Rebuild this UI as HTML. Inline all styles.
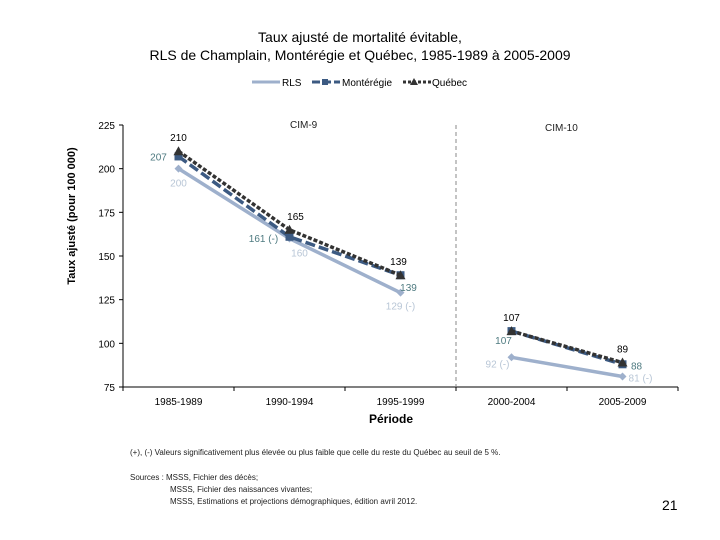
<!DOCTYPE html>
<html><head><meta charset="utf-8"><style>
body{margin:0;background:#fff;}
svg{display:block;font-family:"Liberation Sans",Arial,sans-serif;}
</style></head><body>
<svg id="c" width="720" height="540" viewBox="0 0 720 540">
<text x="360" y="42" text-anchor="middle" font-size="14">Taux ajusté de mortalité évitable,</text>
<text x="360" y="60" text-anchor="middle" font-size="14">RLS de Champlain, Montérégie et Québec, 1985-1989 à 2005-2009</text>
<g font-size="10">
<g><line x1="252" y1="82" x2="280" y2="82" stroke="#9eb0cc" stroke-width="3"/><text x="282" y="86">RLS</text></g>
<g><line x1="312" y1="82" x2="340" y2="82" stroke="#3c5a82" stroke-width="3" stroke-dasharray="8,3"/><rect x="322" y="79" width="6" height="6" fill="#3c5a82"/><text x="342" y="86">Montérégie</text></g>
<g><line x1="403" y1="82" x2="432" y2="82" stroke="#333" stroke-width="3" stroke-dasharray="3,2"/><path d="M414 78 L418 85 L410 85Z" fill="#333"/><text x="432" y="86">Québec</text></g>
</g>
<text transform="translate(75,216) rotate(-90)" text-anchor="middle" font-size="11" font-weight="bold">Taux ajusté (pour 100 000)</text>
<text x="391" y="423" text-anchor="middle" font-size="12" font-weight="bold">Période</text>
<text x="290" y="128" font-size="10" fill="#222">CIM-9</text>
<text x="545" y="131" font-size="10" fill="#222">CIM-10</text>
<g id="plot"></g>
<g font-size="8" fill="#222">
<text x="130" y="455">(+), (-) Valeurs significativement plus élevée ou plus faible que celle du reste du Québec au seuil de 5 %.</text>
<text x="130" y="480">Sources : MSSS, Fichier des décès;</text>
<text x="170" y="492">MSSS, Fichier des naissances vivantes;</text>
<text x="170" y="504">MSSS, Estimations et projections démographiques, édition avril 2012.</text>
</g>
<text x="662" y="510" font-size="14">21</text>
</svg>
<script>
const categories=["1985-1989","1990-1994","1995-1999","2000-2004","2005-2009"];
const rls=[200,160,129,92,81];
const monteregie=[207,161,139,107,88];
const quebec=[210,165,139,107,89];
const rlsLabels=["200","160","129 (-)","92 (-)","81 (-)"];
const monLabels=["207","161 (-)","139","107","88"];
const queLabels=["210","165","139","107","89"];
const yTicks=[75,100,125,150,175,200,225];
const X0=123,X1=678,Y0=387,Y1=125,YMIN=75,YMAX=225;
const bw=(X1-X0)/categories.length;
const xs=i=>X0+bw*(i+0.5);
const ys=v=>Y0-(v-YMIN)/(YMAX-YMIN)*(Y0-Y1);
const NS="http://www.w3.org/2000/svg";
const g=document.getElementById('plot');
function mk(t,a,p){const e=document.createElementNS(NS,t);for(const k in a)e.setAttribute(k,a[k]);(p||g).appendChild(e);return e;}
let ax=mk('line',{x1:X0,y1:Y1,x2:X0,y2:Y0,stroke:'#000'});


let bx=mk('line',{x1:X0,y1:Y0,x2:X1,y2:Y0,stroke:'#000'});


yTicks.forEach(v=>{mk('line',{x1:X0-4,y1:ys(v),x2:X0,y2:ys(v),stroke:'#000'});
 const t=mk('text',{x:X0-8,y:ys(v)+4,'text-anchor':'end','font-size':10});t.textContent=v;
 
 });
for(let i=0;i<=categories.length;i++)mk('line',{x1:X0+bw*i,y1:Y0,x2:X0+bw*i,y2:Y0+4,stroke:'#000'});
categories.forEach((c,i)=>{const t=mk('text',{x:xs(i),y:Y0+18,'text-anchor':'middle','font-size':10});t.textContent=c;
 
 });
const sep=mk('line',{x1:X0+bw*3,y1:Y1,x2:X0+bw*3,y2:Y0,stroke:'#888','stroke-dasharray':'4,3'});


function series(vals,name,color,dash,marker,labels,lcol,dx,dy){
 [[0,3],[3,5]].forEach(([a,b])=>{
  const pts=vals.slice(a,b).map((v,k)=>xs(a+k)+','+ys(v)).join(' ');
  const l=mk('polyline',{points:pts,fill:'none',stroke:color,'stroke-width':3.5,'stroke-dasharray':dash});
  
  });
 vals.forEach((v,i)=>{const x=xs(i),y=ys(v);let m;
  if(marker==='sq')m=mk('rect',{x:x-4,y:y-4,width:8,height:8,fill:color});
  else if(marker==='tri')m=mk('path',{d:`M${x} ${y-5}L${x+5} ${y+4}L${x-5} ${y+4}Z`,fill:color});
  else m=mk('path',{d:`M${x} ${y-4}L${x+4} ${y}L${x} ${y+4}L${x-4} ${y}Z`,fill:color});
  
  
  const t=mk('text',{x:x+dx[i],y:y+dy[i],'text-anchor':'middle','font-size':10,fill:lcol});t.textContent=labels[i];
  
  });
}
series(rls,'rls','#9eb0cc','none','dia',rlsLabels,'#b8c6d6',[0,10,0,-14,18],[18,18,17,10,5]);
series(monteregie,'monteregie','#3c5a82','10,4','sq',monLabels,'#4e7a80',[-20,-26,8,-8,14],[4,5,16,13,5]);
series(quebec,'quebec','#333','4,2','tri',queLabels,'#000',[0,6,-2,0,0],[-10,-10,-10,-10,-10]);
</script>
</body></html>
